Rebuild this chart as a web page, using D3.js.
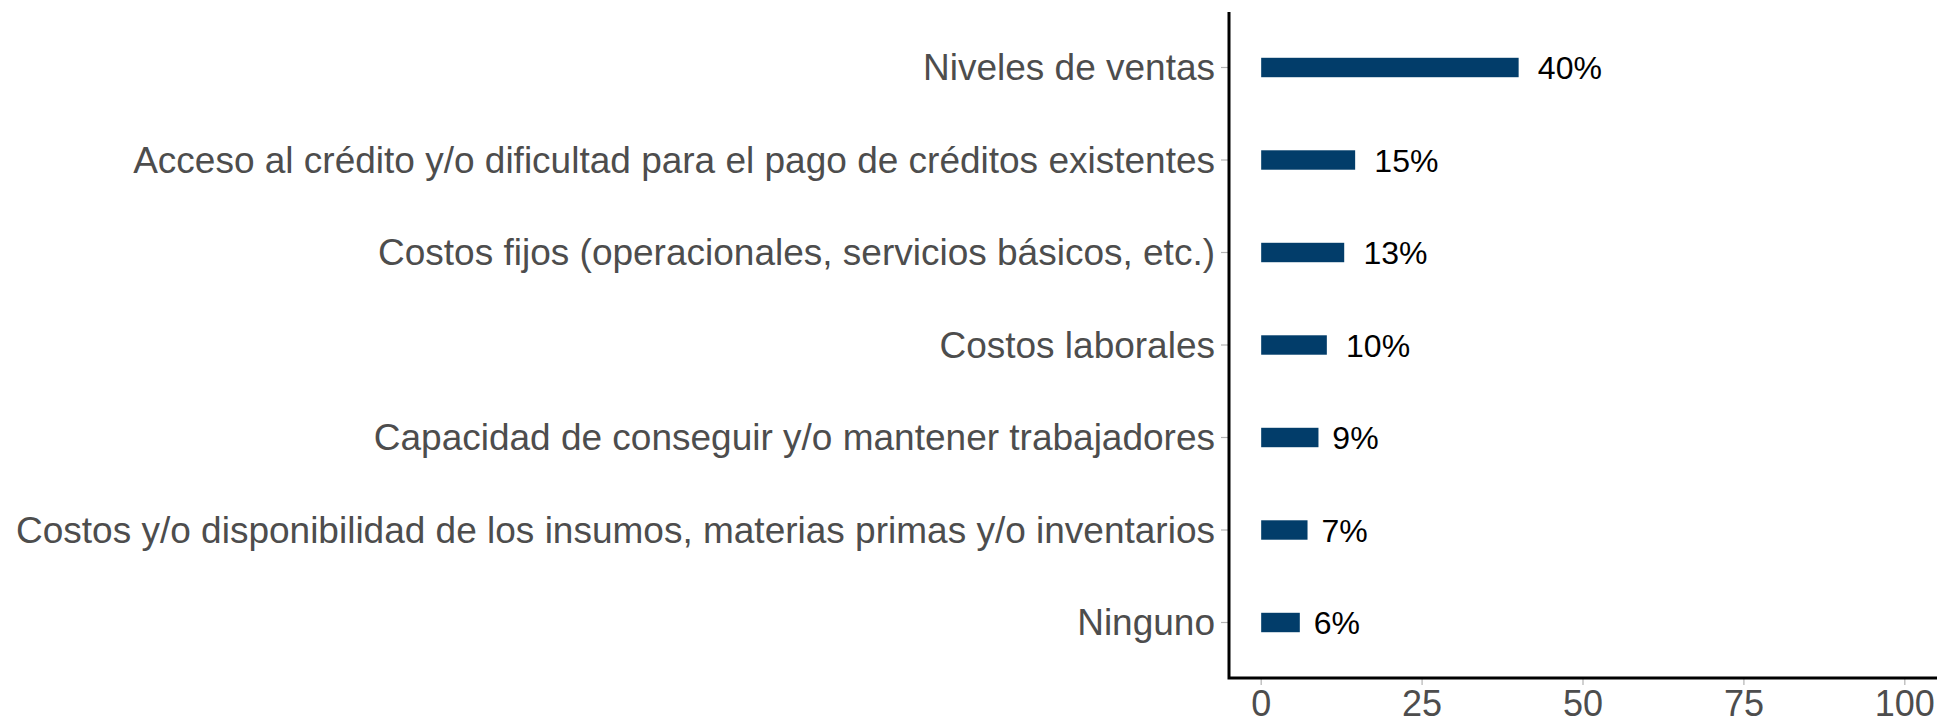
<!DOCTYPE html>
<html>
<head>
<meta charset="utf-8">
<script src="https://cdn.jsdelivr.net/npm/d3@7"></script>
<style>
  body { margin: 0; background: #fff; }
  text { font-family: "Liberation Sans", Arial, sans-serif; }
</style>
</head>
<body>
<div id="chart"></div>
<script>
// data
const categories = [
  'Niveles de ventas',
  'Acceso al crédito y/o dificultad para el pago de créditos existentes',
  'Costos fijos (operacionales, servicios básicos, etc.)',
  'Costos laborales',
  'Capacidad de conseguir y/o mantener trabajadores',
  'Costos y/o disponibilidad de los insumos, materias primas y/o inventarios',
  'Ninguno'
];
const values = [40, 14.6, 12.9, 10.2, 8.9, 7.2, 6.0];
const valueLabels = ['40%', '15%', '13%', '10%', '9%', '7%', '6%'];
const xTicks = [0, 25, 50, 75, 100];

const width = 1941, height = 720;
const margin = { top: 12, right: 4, bottom: 42, left: 1229 };

const svg = d3.select('#chart').append('svg')
  .attr('width', width)
  .attr('height', height);

const x = d3.scaleLinear()
  .domain([-5, 105])
  .range([margin.left, width - margin.right]);

const y = d3.scalePoint()
  .domain(categories)
  .range([margin.top, height - margin.bottom])
  .padding(0.6);

const barH = y.step() * 0.21;

// bars
svg.append('g').selectAll('rect')
  .data(values)
  .enter()
  .append('rect')
  .attr('x', x(0))
  .attr('y', (d, i) => y(categories[i]) - barH / 2)
  .attr('width', d => x(d) - x(0))
  .attr('height', barH)
  .attr('fill', '#023d6a');

// value labels, hjust about -0.3
svg.append('g').selectAll('text')
  .data(values)
  .enter()
  .append('text')
  .text((d, i) => valueLabels[i])
  .attr('font-size', 32)
  .attr('fill', '#000')
  .attr('y', (d, i) => y(categories[i]))
  .attr('dy', '0.36em')
  .each(function(d) {
    let w = this.getComputedTextLength();
    d3.select(this).attr('x', x(d) + 0.3 * w);
  });

// y axis: ticks + labels
const yAxis = svg.append('g');
yAxis.selectAll('line')
  .data(categories)
  .enter()
  .append('line')
  .attr('x1', margin.left - 8)
  .attr('x2', margin.left)
  .attr('y1', d => y(d))
  .attr('y2', d => y(d))
  .attr('stroke', '#b3b3b3')
  .attr('stroke-width', 1.2);

yAxis.selectAll('text')
  .data(categories)
  .enter()
  .append('text')
  .text(d => d)
  .attr('text-anchor', 'end')
  .attr('font-size', 37)
  .attr('fill', '#4d4d4d')
  .attr('x', margin.left - 14)
  .attr('y', d => y(d))
  .attr('dy', '0.34em');

// x axis
const x0 = height - margin.bottom;
const xAxis = svg.append('g');
xAxis.selectAll('line')
  .data(xTicks)
  .enter()
  .append('line')
  .attr('x1', d => x(d))
  .attr('x2', d => x(d))
  .attr('y1', x0)
  .attr('y2', x0 + 7)
  .attr('stroke', '#b3b3b3')
  .attr('stroke-width', 1.2);

xAxis.selectAll('text')
  .data(xTicks)
  .enter()
  .append('text')
  .text(d => d)
  .attr('x', d => x(d))
  .attr('y', x0 + 38)
  .attr('text-anchor', 'middle')
  .attr('font-size', 36)
  .attr('fill', '#4d4d4d');

// axis lines
svg.append('path')
  .attr('d', `M${margin.left},${margin.top}V${x0}H${width - margin.right}`)
  .attr('fill', 'none')
  .attr('stroke', '#000')
  .attr('stroke-width', 3);
</script>
</body>
</html>
